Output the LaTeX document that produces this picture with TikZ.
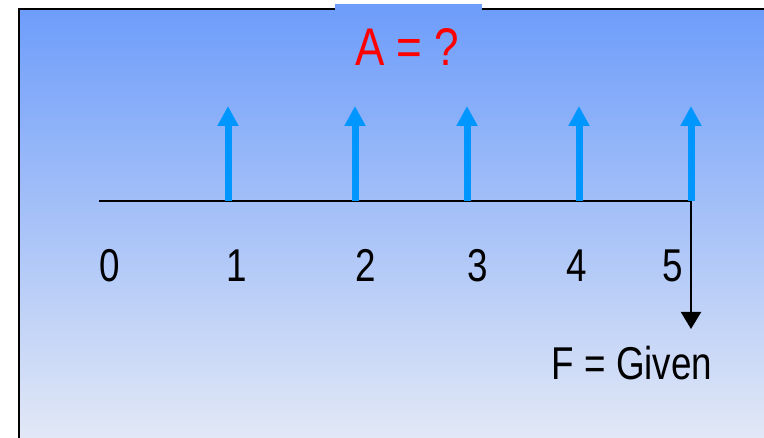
\documentclass[tikz,border=0pt]{standalone}
\usepackage{fontspec}
\usetikzlibrary{arrows.meta}
\newfontfamily\narrowsans[FakeStretch=0.8]{Liberation Sans}
\newfontfamily\titlesans[FakeStretch=0.83]{Liberation Sans}
\definecolor{bgtop}{RGB}{110,157,250}
\definecolor{bgbot}{RGB}{226,232,246}
\definecolor{flowblue}{RGB}{0,150,255}
\definecolor{titlered}{RGB}{255,0,0}
\tikzset{
  flowarrow/.style={draw=flowblue, line width=7pt, -{Triangle[width=20pt,length=20pt]}},
  givenarrow/.style={draw=black, line width=2pt, -{Triangle[width=20pt,length=17pt]}},
  digit/.style={font=\narrowsans\fontsize{46}{50}\selectfont, anchor=base, inner sep=0pt},
  titletext/.style={font=\titlesans\fontsize{53}{58}\selectfont, text=titlered, anchor=base, inner sep=0pt},
}
\begin{document}
\begin{tikzpicture}[x=1pt,y=1pt]
\useasboundingbox (0,0) rectangle (764,438);
\fill[white] (0,0) rectangle (764,438);
% gradient panel
\shade[top color=bgtop, bottom color=bgbot] (18,0) rectangle (764,428);
% borders
\draw[line width=2pt] (19,0) -- (19,429) -- (764,429);
% title tab
\fill[bgtop] (335,426) rectangle (482,434);
\node[titletext] (title) at (407,372) {A = ?};
% timeline
\coordinate (t0) at (99,237);
\coordinate (t1) at (228,237);
\coordinate (t2) at (355,237);
\coordinate (t3) at (467,237);
\coordinate (t4) at (579,237);
\coordinate (t5) at (691,237);
\draw[line width=2.5pt] (t0) -- (t5);
% cash flow arrows
\foreach \i/\x in {1/228,2/355,3/467,4/579,5/691}{
  \coordinate (a\i) at (\x,332);
  \draw[flowarrow] (t\i) -- (a\i);
}
% future value arrow
\coordinate (fend) at (691,109);
\draw[givenarrow] (t5) -- (fend);
% period labels
\node[digit] (n0) at (110,156) {0};
\node[digit] (n1) at (237,156) {1};
\node[digit] (n2) at (366,156) {2};
\node[digit] (n3) at (478,156) {3};
\node[digit] (n4) at (577,156) {4};
\node[digit] (n5) at (673,156) {5};
\node[digit] (given) at (632,58) {F = Given};
\end{tikzpicture}
\end{document}
